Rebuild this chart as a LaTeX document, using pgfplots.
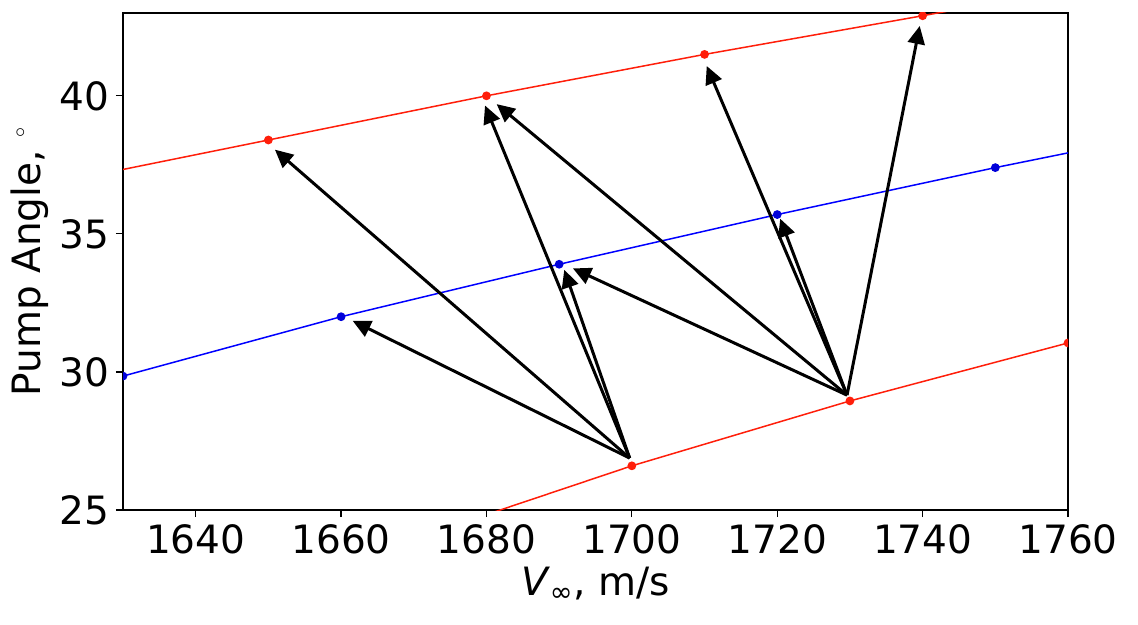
\documentclass[border=0pt]{standalone}
\usepackage{fontspec}
\setmainfont{DejaVu Sans}
\usepackage{pgfplots}
\pgfplotsset{compat=1.18}
\usetikzlibrary{arrows.meta}
\definecolor{mred}{RGB}{255,30,10}
\begin{document}
\begin{tikzpicture}
\begin{axis}[
  width=472.5pt, height=248.5pt, scale only axis,
  xmin=1630, xmax=1760, ymin=25, ymax=43,
  xtick={1640,1660,...,1760}, ytick={25,30,35,40},
  tick align=outside, xtick pos=left, ytick pos=left,
  major tick length=3.5pt,
  tick style={black, line width=0.6pt},
  axis line style={line width=0.6pt},
  /pgf/number format/assume math mode=true,
  /pgf/number format/1000 sep={},
  tick label style={font=\fontsize{19.5}{23}\selectfont},
  label style={font=\fontsize{19.5}{23}\selectfont},
  xlabel={\textit{V}\textsubscript{∞}, m/s},
  ylabel={Pump Angle, $^{\scriptscriptstyle\circ}$},
  ylabel style={yshift=-1.5pt},
  clip marker paths=true,
  arr/.style={black, line width=1.5pt, -{Triangle[length=9pt,width=8.5pt]}},
]
% upper red
\addplot[mred, line width=0.75pt, mark=*, mark size=1.8pt] coordinates {
(1620,36.8) (1650,38.4) (1680,40.0) (1710,41.5) (1740,42.9) (1770,44.35)};
% blue
\addplot[blue, line width=0.75pt, mark=*, mark size=1.8pt, mark options={fill=blue!85!black, draw=blue!85!black}] coordinates {
(1630,29.85) (1660,32.0) (1690,33.9) (1720,35.7) (1750,37.4) (1780,39.0)};
% lower red
\addplot[mred, line width=0.75pt, mark=*, mark size=1.8pt] coordinates {
(1670,23.95) (1700,26.6) (1730,28.95) (1760,31.05)};
% arrows from (1699.7, 26.88)
\addplot[arr] coordinates {(1699.7,26.88) (1661.6,31.85)};
\addplot[arr] coordinates {(1699.7,26.88) (1650.9,38.05)};
\addplot[arr] coordinates {(1699.7,26.88) (1679.8,39.65)};
\addplot[arr] coordinates {(1699.7,26.88) (1690.7,33.7)};
% arrows from (1729.6, 29.16)
\addplot[arr] coordinates {(1729.6,29.16) (1691.9,33.75)};
\addplot[arr] coordinates {(1729.6,29.16) (1681.4,39.7)};
\addplot[arr] coordinates {(1729.6,29.16) (1710.3,41.08)};
\addplot[arr] coordinates {(1729.6,29.16) (1720.4,35.55)};
\addplot[arr] coordinates {(1729.6,29.16) (1739.6,42.53)};
\end{axis}
\pgfresetboundingbox
\path ([shift={(-61.5pt,-57.5pt)}]current axis.south west) rectangle ([shift={(35pt,6.5pt)}]current axis.north east);
\end{tikzpicture}
\end{document}
